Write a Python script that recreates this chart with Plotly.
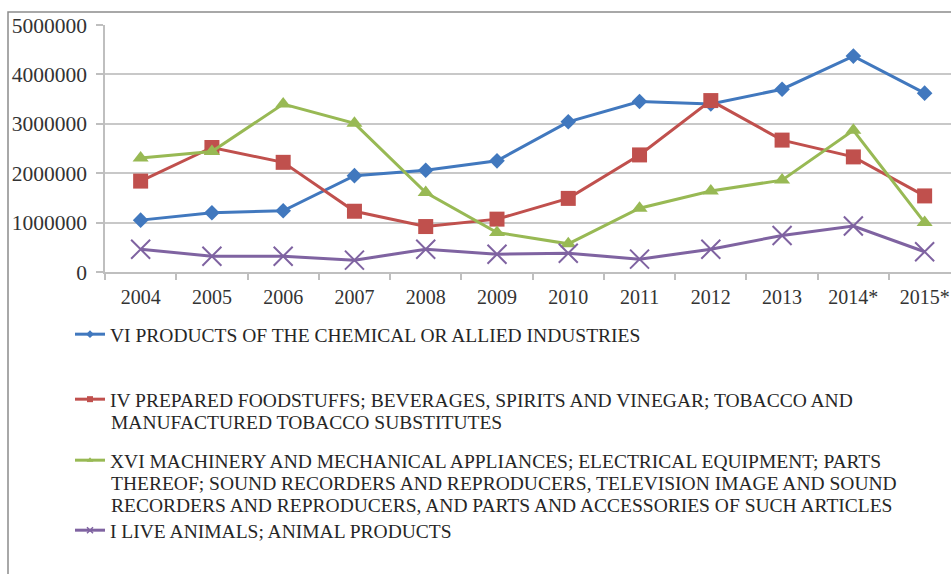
import plotly.graph_objects as go

# Years on the category axis (2014 and 2015 are preliminary)
years = ["2004", "2005", "2006", "2007", "2008", "2009",
         "2010", "2011", "2012", "2013", "2014*", "2015*"]

chemical = [1050000, 1200000, 1240000, 1950000, 2060000, 2250000,
            3040000, 3450000, 3400000, 3700000, 4370000, 3620000]
foodstuffs = [1840000, 2520000, 2220000, 1230000, 920000, 1070000,
              1490000, 2370000, 3470000, 2670000, 2330000, 1540000]
machinery = [2310000, 2440000, 3400000, 3010000, 1610000, 800000,
             570000, 1290000, 1640000, 1860000, 2870000, 1000000]
animals = [460000, 320000, 320000, 240000, 460000, 360000,
           380000, 260000, 460000, 740000, 930000, 410000]

# Series labels, one list entry per printed line
label_lines = [
    ["VI PRODUCTS OF THE CHEMICAL OR ALLIED INDUSTRIES"],
    ["IV PREPARED FOODSTUFFS; BEVERAGES, SPIRITS AND VINEGAR; TOBACCO AND",
     "MANUFACTURED TOBACCO SUBSTITUTES"],
    ["XVI MACHINERY AND MECHANICAL APPLIANCES; ELECTRICAL EQUIPMENT; PARTS",
     "THEREOF; SOUND RECORDERS AND REPRODUCERS, TELEVISION IMAGE AND SOUND",
     "RECORDERS AND REPRODUCERS, AND PARTS AND ACCESSORIES OF SUCH ARTICLES"],
    ["I LIVE ANIMALS; ANIMAL PRODUCTS"],
]

series = [chemical, foodstuffs, machinery, animals]
colors = ["#4178BE", "#C0504D", "#98B954", "#7F63A1"]
symbols = ["diamond", "square", "triangle-up", "x-thin"]
sizes = [12, 15, 14, 19]
legend_ids = ["legend", "legend2", "legend3", "legend4"]

FONT = "Liberation Serif, Times New Roman, serif"
LEG_FONT = dict(family=FONT, size=19.5, color="#262626")

# plot-area geometry in pixels (used to place the legend block below it)
W, H = 951, 574
L, R, T, B = 105, 0, 25, 302
PW, PH = W - L - R, H - T - B


def py(pix):
    """pixel row -> paper y"""
    return (H - B - pix) / PH


def px(pix):
    """pixel column -> paper x"""
    return (pix - L) / PW


# first-line centres of each legend entry and spacing of wrapped lines
entry_rows = [335, 400, 461, 531]
line_step = 22.5
text_left = 111

fig = go.Figure()
annotations = []

for vals, lines, col, sym, sz, lid, row in zip(series, label_lines, colors, symbols,
                                               sizes, legend_ids, entry_rows):
    marker = dict(symbol=sym, size=sz, color=col)
    if sym == "x-thin":
        marker["line"] = dict(color=col, width=2)
    fig.add_trace(go.Scatter(
        x=years, y=vals, mode="lines+markers", name=" ".join(lines),
        line=dict(color=col, width=3), marker=marker,
        showlegend=False, cliponaxis=False,
    ))
    # legend key with a small marker; first line of the label
    key = dict(symbol=sym, size=6, color=col)
    if sym == "x-thin":
        key["line"] = dict(color=col, width=1.5)
    fig.add_trace(go.Scatter(
        x=[None], y=[None], mode="lines+markers", name=lines[0],
        line=dict(color=col, width=3), marker=key,
        showlegend=True, legend=lid,
    ))
    # wrapped continuation lines
    for k, txt in enumerate(lines[1:], start=1):
        annotations.append(dict(
            text=txt, xref="paper", yref="paper",
            x=px(text_left), y=py(row + k * line_step),
            xanchor="left", yanchor="middle", showarrow=False,
            font=LEG_FONT, xshift=-2,
        ))

layout_legends = {}
for lid, row in zip(legend_ids, entry_rows):
    layout_legends[lid] = dict(
        x=px(text_left - 41), y=py(row - 20), xanchor="left", yanchor="top",
        bgcolor="rgba(0,0,0,0)", valign="top", font=LEG_FONT,
        itemclick=False, itemdoubleclick=False,
    )

fig.update_layout(
    width=W, height=H,
    margin=dict(l=L, r=R, t=T, b=B),
    paper_bgcolor="white", plot_bgcolor="white",
    font=dict(family=FONT, size=20, color="#333333"),
    **layout_legends,
    annotations=annotations,
    xaxis=dict(
        type="category", range=[-0.5, 11.37],
        tickson="boundaries", ticks="outside", ticklen=6,
        tickcolor="#BFBFBF", tickwidth=1.5,
        showgrid=False, showline=True, linecolor="#BFBFBF", linewidth=1.5,
        tickfont=dict(family=FONT, size=20, color="#333333"),
        ticklabelstandoff=6,
    ),
    yaxis=dict(
        range=[0, 5000000], tickvals=[0, 1000000, 2000000, 3000000, 4000000, 5000000],
        tickformat="d", ticks="outside", ticklen=7,
        tickcolor="#BFBFBF", tickwidth=1.5,
        showgrid=True, gridcolor="#C8C8C8", gridwidth=1.5,
        showline=True, linecolor="#BFBFBF", linewidth=1.5,
        zeroline=False,
        tickfont=dict(family=FONT, size=21.5, color="#333333"),
        ticklabelstandoff=5,
    ),
    shapes=[dict(
        type="rect", xref="paper", yref="paper",
        x0=px(8), x1=1.2, y0=-1.5, y1=py(12),
        line=dict(color="#8C8C8C", width=1.5), fillcolor="rgba(0,0,0,0)",
        layer="below",
    )],
)

fig.write_html("out.html")
